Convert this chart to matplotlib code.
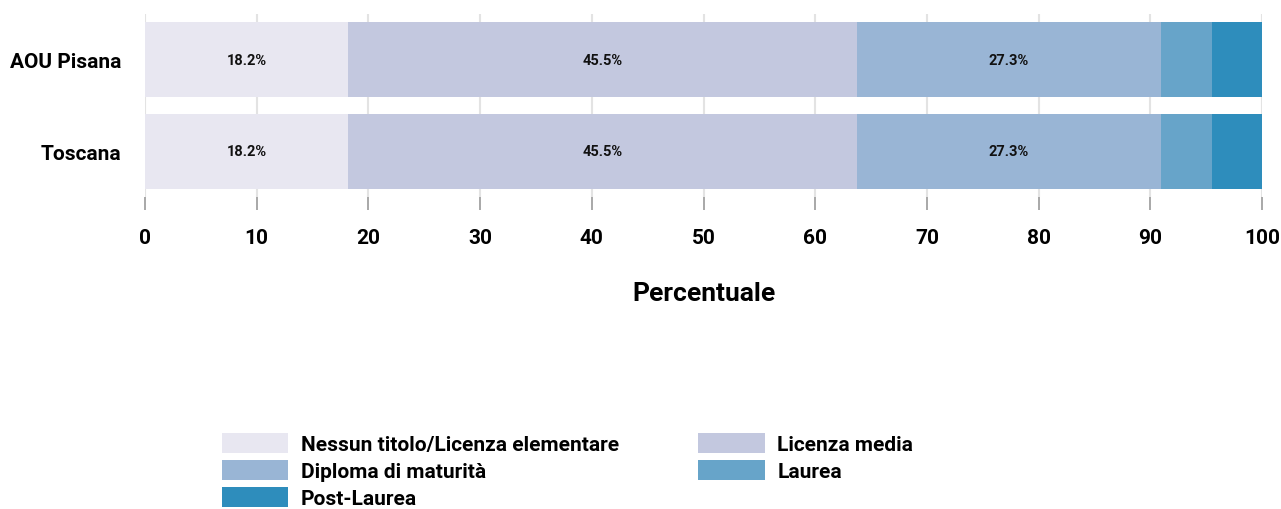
import matplotlib
matplotlib.use("Agg")
import matplotlib.pyplot as plt
import numpy as np
from matplotlib import font_manager

# font: condensed if possible
names = set(f.name for f in font_manager.fontManager.ttflist)
if "Liberation Sans Narrow" in names:
    fam = "Liberation Sans Narrow"
else:
    fam = "Roboto"
plt.rcParams["font.family"] = [fam, "DejaVu Sans"]
plt.rcParams["font.weight"] = "bold"

regions = ["AOU Pisana", "Toscana"]
livelli = ["Nessun titolo/Licenza elementare", "Licenza media", "Diploma di maturità",
           "Laurea", "Post-Laurea"]
valori = {
    "AOU Pisana": [18.2, 45.5, 27.3, 4.5, 4.5],
    "Toscana": [18.2, 45.5, 27.3, 4.5, 4.5],
}
colori = ["#e8e7f1", "#c3c8df", "#99b5d5", "#67a4c9", "#2e8dbc"]
etichetta_min = 10  # no label for small segments

fig = plt.figure(figsize=(12.81, 5.10), dpi=100)
ax = fig.add_axes([145 / 1281, 1 - 198 / 510, (1262 - 145) / 1281, (198 - 15) / 510])

y = np.arange(len(regions))
left = np.zeros(len(regions))
handles = []
for j, lv in enumerate(livelli):
    vals = np.array([valori[r][j] for r in regions])
    b = ax.barh(y, vals, left=left, height=0.82, color=colori[j], label=lv, zorder=2)
    handles.append(b)
    for i, v in enumerate(vals):
        if v >= etichetta_min:
            ax.text(left[i] + v / 2, y[i], f"{v:.1f}%", ha="center", va="center",
                    fontsize=10.5, fontweight="bold", color="#111111", zorder=3)
    left += vals

ax.set_xlim(0, 100)
ax.set_ylim(1.5, -0.5)
ax.set_yticks(y)
ax.set_yticklabels(regions, fontsize=15, fontweight="bold")
ax.set_xticks(np.arange(0, 101, 10))
ax.tick_params(axis="x", length=9.5, width=1.2, color="#999999", pad=13, labelsize=15)
ax.tick_params(axis="y", length=0, pad=17)
for lab in ax.get_xticklabels():
    lab.set_fontweight("bold")
ax.grid(axis="x", color="#e3e3e3", linewidth=1.5, zorder=0)
ax.set_axisbelow(True)
for s in ax.spines.values():
    s.set_visible(False)
ax.set_xlabel("Percentuale", fontsize=19, fontweight="bold", labelpad=24)

order = [0, 2, 4, 1, 3]
leg = fig.legend([handles[k] for k in order], [livelli[k] for k in order],
                 ncol=2, loc="upper left", bbox_to_anchor=(203 / 1281, 1 - 415 / 510),
                 frameon=False, handlelength=3.2, handleheight=1.15,
                 handletextpad=0.6, columnspacing=3.8, labelspacing=0.27,
                 prop={"weight": "bold", "size": 15})

fig.savefig("out.png", dpi=100)
